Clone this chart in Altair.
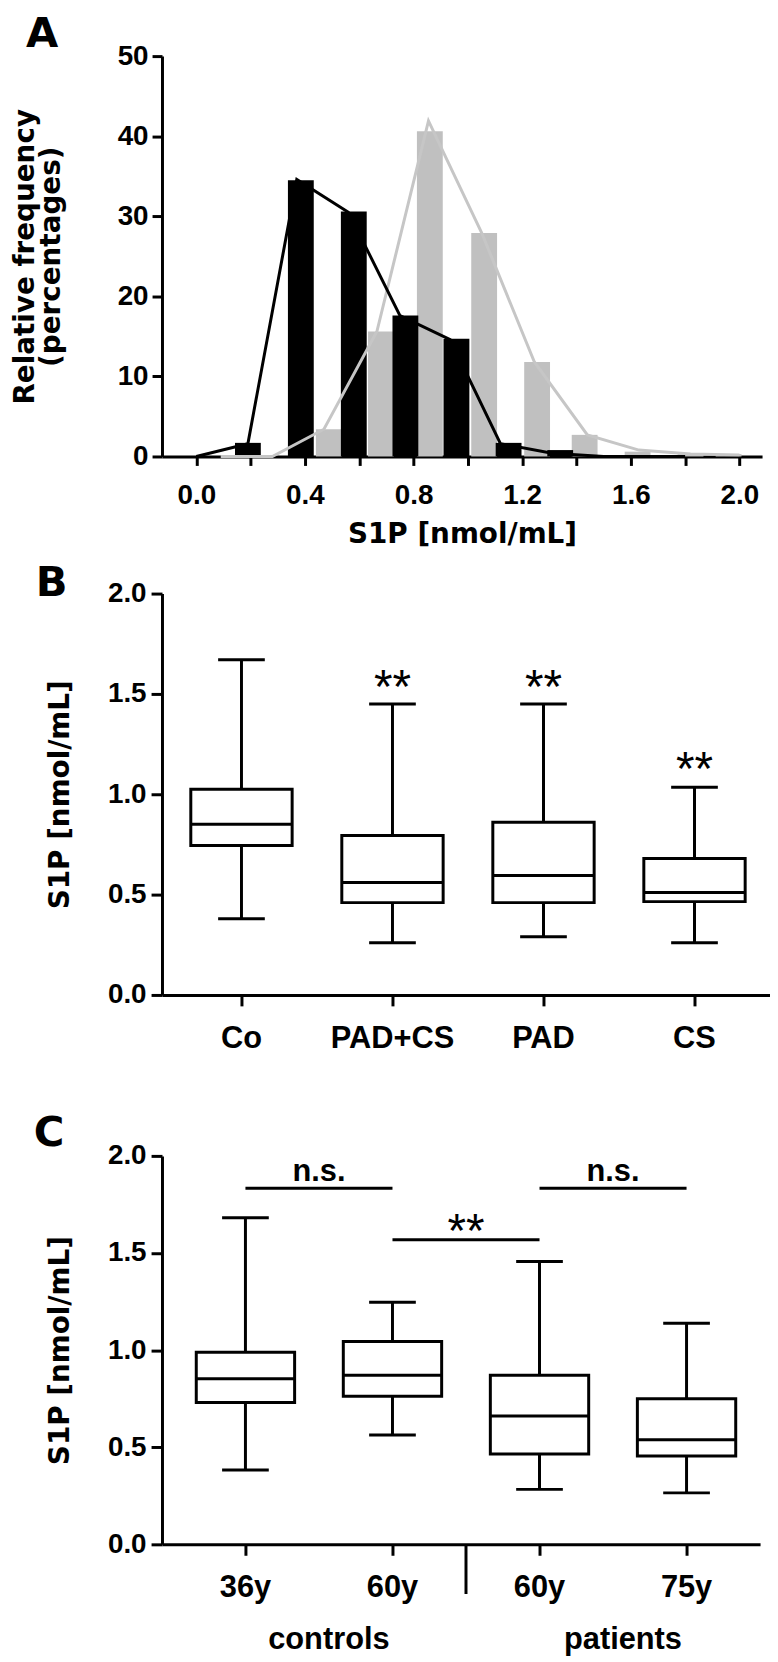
import altair as alt
import pandas as pd

LAB = "Liberation Sans"
TIT = "DejaVu Sans"

# ---------------- Panel A: relative frequency histogram ----------------
a_black_x = [0.19, 0.385, 0.58, 0.77, 0.958, 1.15, 1.34]
a_black_pct = [1.7, 34.5, 30.6, 17.6, 14.7, 1.7, 0.8]
a_gray_x = [0.488, 0.68, 0.86, 1.06, 1.255, 1.43, 1.625, 1.82, 1.96]
a_gray_pct = [3.4, 15.6, 40.6, 27.9, 11.8, 2.7, 0.6, 0.3, 0.3]
a_bline_x = [0.0, 0.19, 0.37, 0.56, 0.75, 0.935, 1.12, 1.31, 1.5, 1.7, 1.8]
a_bline_pct = [0.0, 1.6, 34.6, 30.5, 17.6, 14.6, 1.6, 0.4, 0.0, 0.0, 0.0]
a_gline_x = [0.09, 0.28, 0.47, 0.665, 0.855, 1.05, 1.245, 1.44, 1.63, 1.82, 2.0]
a_gline_pct = [0.0, 0.0, 3.4, 15.6, 41.9, 28.0, 11.8, 2.7, 0.8, 0.3, 0.2]
a_xticks = [0.0, 0.2, 0.4, 0.6, 0.8, 1.0, 1.2, 1.4, 1.6, 1.8, 2.0]
a_yticks = [0, 10, 20, 30, 40, 50]

# ---------------- Panel B: box plots by group ----------------
b_groups = ["Co", "PAD+CS", "PAD", "CS"]
b_min = [0.38, 0.26, 0.29, 0.26]
b_q1 = [0.745, 0.46, 0.46, 0.465]
b_med = [0.85, 0.56, 0.595, 0.51]
b_q3 = [1.025, 0.795, 0.86, 0.68]
b_max = [1.67, 1.45, 1.45, 1.035]
b_star_groups = ["PAD+CS", "PAD", "CS"]
b_star_y = [1.585, 1.585, 1.175]

# ---------------- Panel C: box plots by age ----------------
c_groups = ["controls 36y", "controls 60y", "patients 60y", "patients 75y"]
c_min = [0.383, 0.563, 0.283, 0.265]
c_q1 = [0.73, 0.763, 0.465, 0.455]
c_med = [0.852, 0.871, 0.661, 0.538]
c_q3 = [0.989, 1.044, 0.871, 0.75]
c_max = [1.682, 1.246, 1.456, 1.138]
c_br_from = ["controls 36y", "controls 60y", "patients 60y"]
c_br_to = ["controls 60y", "patients 60y", "patients 75y"]
c_br_y = [1.833, 1.568, 1.833]
c_br_text = ["n.s.", "**", "n.s."]
c_br_text_y = [1.87, 1.665, 1.87]
c_group_names = ["controls", "patients"]
c_group_anchor = ["controls 36y", "patients 60y"]
s_ticks = [0.0, 0.5, 1.0, 1.5, 2.0]

AW, AH = 604, 403
BW, BH = 612, 404
CW, CH = 602, 391
B_STEP, C_STEP = 152, 148
SP = 10
GAP_AB, GAP_BC = 138, 162

# ---------------- Panel A chart ----------------
a_bars_black = pd.DataFrame({"x": a_black_x, "pct": a_black_pct})
a_bars_gray = pd.DataFrame({"x": a_gray_x, "pct": a_gray_pct})
a_line_black = pd.DataFrame({"x": a_bline_x, "pct": a_bline_pct})
a_line_gray = pd.DataFrame({"x": a_gline_x, "pct": a_gline_pct})

ax_scale = alt.Scale(domain=[-0.108, 2.065], nice=False, zero=False)
ay_scale = alt.Scale(domain=[0, 50], nice=False)
ax_axis = alt.Axis(values=a_xticks, tickSize=9, labelPadding=16,
                   labelExpr="round(datum.value*10) % 4 == 0 ? format(datum.value, '.1f') : ''",
                   title="S1P [nmol/mL]", titlePadding=12)
ay_axis = alt.Axis(values=a_yticks, tickSize=10, labelPadding=4,
                   title=["Relative frequency", "(percentages)"], titlePadding=52,
                   titleLineHeight=26)


def AX(f):
    return alt.X(f, type="quantitative", scale=ax_scale, axis=ax_axis, title="S1P [nmol/mL]")


def AY(f):
    return alt.Y(f, type="quantitative", scale=ay_scale, axis=ay_axis,
                 title=["Relative frequency", "(percentages)"])


gray_c = "#c0c0c0"
a_layers = [
    alt.Chart(a_bars_gray).mark_bar(size=26, color=gray_c).encode(x=AX("x"), y=AY("pct")),
    alt.Chart(a_bars_black).mark_bar(size=26, color="black").encode(x=AX("x"), y=AY("pct")),
    alt.Chart(a_line_gray).mark_line(color="#c6c6c6", strokeWidth=3).encode(x=AX("x"), y=AY("pct")),
    alt.Chart(a_line_black).mark_line(color="black", strokeWidth=3).encode(x=AX("x"), y=AY("pct")),
    alt.Chart(pd.DataFrame({"t": ["A"]})).mark_text(
        font=TIT, fontSize=42, fontWeight="bold", align="left", baseline="alphabetic", color="black"
    ).encode(text="t:N", x=alt.value(-137), y=alt.value(-9)),
]
panel_a = alt.layer(*a_layers).properties(width=AW, height=AH)


def box_panel(groups, mn, q1, md, q3, mx, W, H, step, label_expr, letter, letter_dx, letter_y, extra):
    df = pd.DataFrame({"g": groups, "mn": mn, "q1": q1, "md": md, "q3": q3, "mx": mx})
    n = len(groups)
    pad_outer = (W - step * n) / (2.0 * step)
    xs = alt.Scale(domain=groups, paddingInner=0, paddingOuter=pad_outer, align=1)
    xa = alt.Axis(title=None, tickSize=11, labelPadding=18, labelAngle=0,
                  labelFontSize=31, labelExpr=label_expr)
    ys = alt.Scale(domain=[0, 2], nice=False)
    ya = alt.Axis(values=s_ticks, format=".1f", tickSize=11, labelPadding=5,
                  title="S1P [nmol/mL]", titlePadding=33)

    def X(band=0.5):
        return alt.X("g:N", sort=groups, scale=xs, axis=xa, bandPosition=band, title=None)

    def Y(f):
        return alt.Y(f, type="quantitative", scale=ys, axis=ya, title="S1P [nmol/mL]")

    base = alt.Chart(df)
    bw = int(round(step * 0.67))
    layers = [
        base.mark_rule(color="black", strokeWidth=3).encode(x=X(), y=Y("mn"), y2="q1"),
        base.mark_rule(color="black", strokeWidth=3).encode(x=X(), y=Y("q3"), y2="mx"),
        base.mark_bar(size=bw, fill="white", stroke="black", strokeWidth=3, opacity=1).encode(
            x=X(), y=Y("q1"), y2="q3"),
        base.mark_tick(size=bw, thickness=3, color="black", opacity=1, orient="horizontal").encode(
            x=X(), y=Y("md")),
        base.mark_tick(size=47, thickness=3, color="black", opacity=1, orient="horizontal").encode(
            x=X(), y=Y("mn")),
        base.mark_tick(size=47, thickness=3, color="black", opacity=1, orient="horizontal").encode(
            x=X(), y=Y("mx")),
        alt.Chart(pd.DataFrame({"t": [letter]})).mark_text(
            font=TIT, fontSize=42, fontWeight="bold", align="left", baseline="alphabetic", color="black"
        ).encode(text="t:N", x=alt.value(letter_dx), y=alt.value(letter_y)),
    ]
    layers += extra(X, Y)
    return alt.layer(*layers).properties(width=W, height=H)


def b_extra(X, Y):
    sdf = pd.DataFrame({"g": b_star_groups, "y": b_star_y, "t": ["**"] * len(b_star_groups)})
    return [alt.Chart(sdf).mark_text(font=LAB, fontSize=48, color="black", baseline="middle", dy=12)
            .encode(x=X(), y=Y("y"), text="t:N")]


def c_extra(X, Y):
    br = pd.DataFrame({"g": c_br_from, "g2": c_br_to, "y": c_br_y})
    tx = pd.DataFrame({"g": c_br_from, "y": c_br_text_y, "t": c_br_text})
    tx_ns = tx[tx["t"] == "n.s."]
    tx_st = tx[tx["t"] == "**"]
    names = pd.DataFrame({"g": c_group_anchor, "t": c_group_names})
    div = pd.DataFrame({"g": ["controls 60y"]})
    return [
        alt.Chart(br).mark_rule(color="black", strokeWidth=3).encode(x=X(), x2="g2:N", y=Y("y")),
        alt.Chart(tx_ns).mark_text(font=LAB, fontSize=31, fontWeight="bold", color="black",
                                   baseline="alphabetic").encode(x=X(1), y=Y("y"), text="t:N"),
        alt.Chart(tx_st).mark_text(font=LAB, fontSize=48, color="black", baseline="middle", dy=12)
        .encode(x=X(1), y=Y("y"), text="t:N"),
        alt.Chart(names).mark_text(font=LAB, fontSize=31, fontWeight="bold", color="black",
                                   baseline="alphabetic", dx=10)
        .encode(x=X(1), y=alt.value(CH + 105), text="t:N"),
        alt.Chart(div).mark_rule(color="black", strokeWidth=3)
        .encode(x=X(1), y=alt.value(CH), y2=alt.value(CH + 50)),
    ]


panel_b = box_panel(b_groups, b_min, b_q1, b_med, b_q3, b_max, BW, BH, B_STEP,
                    "datum.label", "B", -127, 2, b_extra)
panel_c = box_panel(c_groups, c_min, c_q1, c_med, c_q3, c_max, CW, CH, C_STEP,
                    "split(datum.label, ' ')[1]", "C", -129, -10, c_extra)


def spacer(h):
    return alt.Chart(pd.DataFrame({"v": [0]})).mark_point(opacity=0).encode(
        x=alt.value(0), y=alt.value(0)).properties(width=10, height=h)


chart = alt.vconcat(
    panel_a, spacer(GAP_AB - 2 * SP), panel_b, spacer(GAP_BC - 2 * SP), panel_c,
    spacing=SP, bounds="flush"
).properties(padding={"left": 3, "top": 0, "right": 0, "bottom": 0}).configure_view(
    stroke=None
).configure_axis(
    domainColor="black", domainWidth=3, tickColor="black", tickWidth=3, grid=False,
    labelFont=LAB, labelFontSize=28, labelFontWeight="bold", labelColor="black",
    titleFont=TIT, titleFontSize=28, titleFontWeight="bold", titleColor="black",
    labelOverlap=False, labelBound=False, labelFlush=False,
)

chart.save("out.html", embed_options={"renderer": "svg", "actions": False})
